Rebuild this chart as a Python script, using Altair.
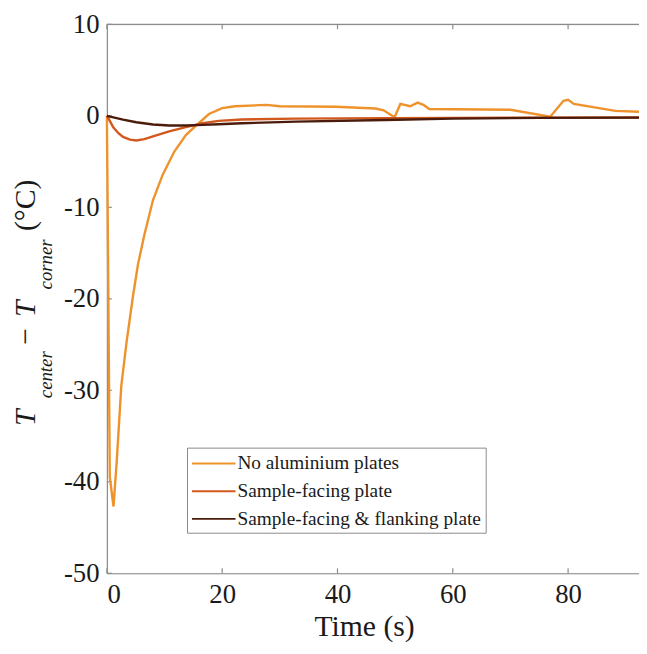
import altair as alt
import pandas as pd

series_names = ["No aluminium plates", "Sample-facing plate", "Sample-facing & flanking plate"]
series_colors = ["#EE922C", "#D2581D", "#4B1C0C"]

t_none = [0, 0.5, 1.15, 1.7, 2.5, 3.4, 4.5, 5.4, 6.5, 8.0, 9.7, 11.7, 13.7, 15.4, 17.7, 20.0, 22.2,
          27.7, 30.0, 39.7, 46.6, 48.0, 49.9, 50.9, 52.6, 53.9, 54.9, 55.9, 70.0, 76.9,
          79.2, 80.0, 81.0, 88.2, 92.3]
v_none = [0, -39.5, -42.7, -37.8, -29.5, -24.8, -19.8, -16.2, -13.0, -9.2, -6.4, -3.9, -2.1, -1.1, 0.2, 0.85, 1.05,
          1.2, 1.05, 1.0, 0.8, 0.6, -0.15, 1.3, 1.05, 1.45, 1.2, 0.75, 0.67, -0.1,
          1.65, 1.75, 1.3, 0.55, 0.45]

t_facing = [0, 0.3, 1.1, 2.0, 2.8, 4.0, 5.1, 6.5, 8.0, 10.8, 13.7, 16.6, 19.4, 23.4, 32.8, 48.0, 60.0, 75.0, 92.3]
v_facing = [0, -0.3, -1.25, -1.9, -2.3, -2.6, -2.7, -2.55, -2.25, -1.7, -1.24, -0.81, -0.55, -0.4, -0.3, -0.25, -0.22, -0.2, -0.18]

t_flank = [0, 2.8, 5.1, 8.0, 10.8, 13.7, 16.6, 19.4, 23.4, 32.8, 48.3, 60.0, 75.0, 92.3]
v_flank = [0, -0.41, -0.7, -0.95, -1.06, -1.06, -0.99, -0.92, -0.81, -0.63, -0.45, -0.3, -0.22, -0.2]

x_ticks = [0, 20, 40, 60, 80]
y_ticks = [-50, -40, -30, -20, -10, 0, 10]

W, H = 538, 555
AXIS_GRAY = "#8c8c8c"
TXT = "#1a1a1a"
FONT = "Liberation Serif, Times New Roman, Times, serif"

rows = []
for name, ts, vs in zip(series_names, [t_none, t_facing, t_flank], [v_none, v_facing, v_flank]):
    for i, (t, v) in enumerate(zip(ts, vs)):
        rows.append({"t": t, "v": v, "series": name, "i": i})
df = pd.DataFrame(rows)

xscale = alt.Scale(domain=[0, 92.3], nice=False, zero=False)
yscale = alt.Scale(domain=[-50, 10], nice=False, zero=False)

lines = alt.Chart(df).mark_line(strokeWidth=2.4).encode(
    x=alt.X("t:Q", scale=xscale, axis=alt.Axis(
        values=x_ticks, tickSize=0, grid=False, domainColor=AXIS_GRAY, domainWidth=1.2,
        labelFont=FONT, labelFontSize=27, labelColor=TXT, labelPadding=9,
        title="Time (s)", titleFont=FONT, titleFontSize=30, titleFontWeight="normal",
        titleColor=TXT, titleX=260, titleY=63, titleBaseline="alphabetic")),
    y=alt.Y("v:Q", scale=yscale, axis=alt.Axis(
        values=y_ticks, tickSize=0, grid=False, domainColor=AXIS_GRAY, domainWidth=1.2,
        labelFont=FONT, labelFontSize=27, labelColor=TXT, labelPadding=8,
        labelExpr="'' + datum.value", title=None)),
    color=alt.Color("series:N", sort=series_names,
                    scale=alt.Scale(domain=series_names, range=series_colors),
                    legend=alt.Legend(title=None, orient="none", legendX=81, legendY=428,
                                      symbolType="M-1,0H3", symbolSize=484, symbolStrokeWidth=2,
                                      symbolFillColor="transparent",
                                      labelFont=FONT, labelFontSize=19.5, labelColor=TXT,
                                      labelLimit=500, labelOffset=23,
                                      strokeColor="#8a8a8a", fillColor="white",
                                      padding=4, rowPadding=6)),
    order="i:Q",
)

ytick_df = pd.DataFrame({"v": y_ticks})
xtick_df = pd.DataFrame({"t": x_ticks})
one = pd.DataFrame({"k": [0]})

ytk = alt.Chart(ytick_df).mark_rule(color=AXIS_GRAY, strokeWidth=1.2).encode(
    y=alt.Y("v:Q", scale=yscale), x=alt.value(0), x2=alt.value(5))
xtk_b = alt.Chart(xtick_df).mark_rule(color=AXIS_GRAY, strokeWidth=1.2).encode(
    x=alt.X("t:Q", scale=xscale), y=alt.value(H), y2=alt.value(H - 5))
xtk_t = alt.Chart(xtick_df).mark_rule(color=AXIS_GRAY, strokeWidth=1.2).encode(
    x=alt.X("t:Q", scale=xscale), y=alt.value(0), y2=alt.value(5))
top_border = alt.Chart(one).mark_rule(color=AXIS_GRAY, strokeWidth=1.2).encode(
    x=alt.value(0), x2=alt.value(W), y=alt.value(0))

def piece(txt, size, italic, x, y):
    kw = dict(text=txt, font=FONT, fontSize=size, angle=270, align="left",
              baseline="alphabetic", color=TXT)
    if italic:
        kw["fontStyle"] = "italic"
    return alt.Chart(one).mark_text(**kw).encode(x=alt.value(x), y=alt.value(y))

title_parts = [
    piece("T", 30, True, -73, 406),
    piece("center", 19, True, -56, 378),
    piece("\u2212", 30, False, -73, 324),
    piece("T", 30, True, -73, 296),
    piece("corner", 19, True, -56, 268),
    piece("(\u00b0C)", 30, False, -73, 209),
]

chart = alt.layer(ytk, xtk_b, xtk_t, top_border, *title_parts, lines).properties(
    width=W, height=H,
    autosize=alt.AutoSizeParams(type="none"),
    padding={"left": 100, "top": 13, "right": 0, "bottom": 70},
).configure_view(stroke=None).configure(background="white")

chart.save("out.html", embed_options={"renderer": "svg", "actions": False})
